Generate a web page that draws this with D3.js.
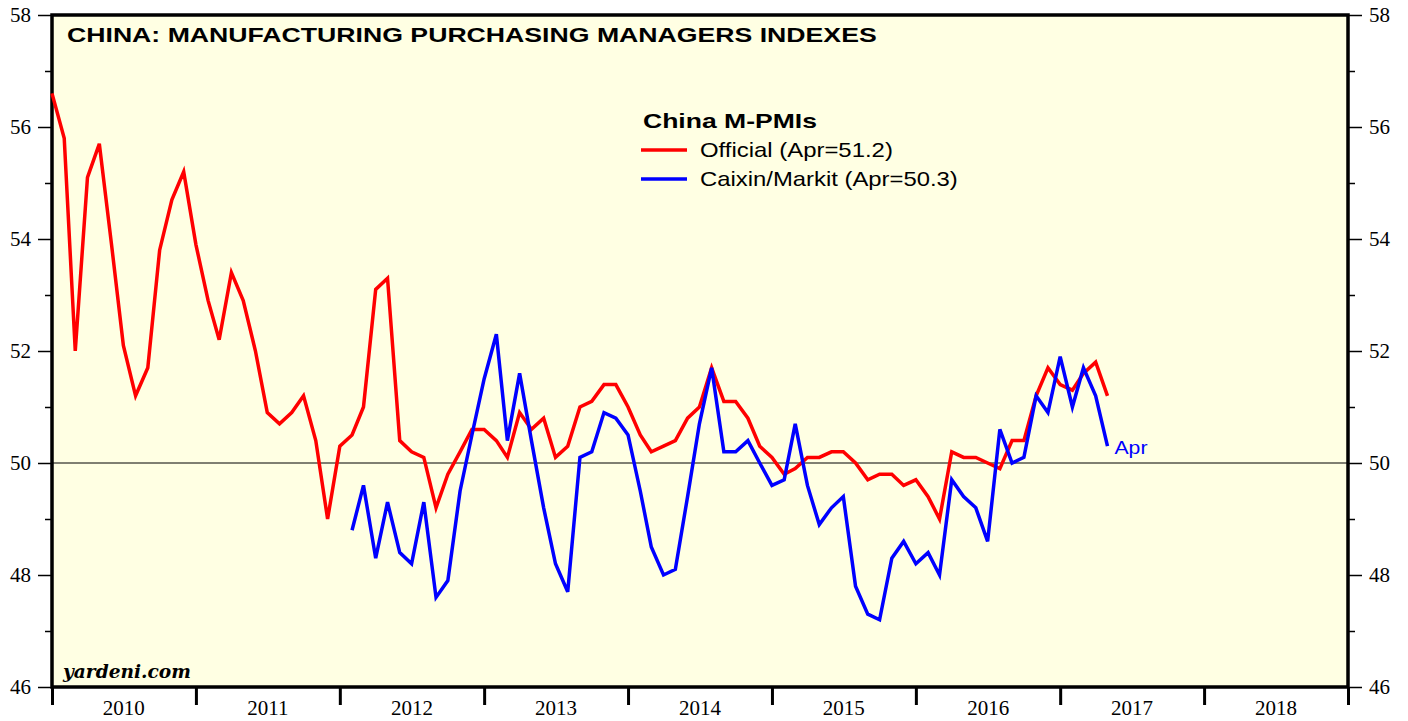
<!DOCTYPE html>
<html>
<head>
<meta charset="utf-8">
<script src="https://cdn.jsdelivr.net/npm/d3@7"></script>
<style>
  body { margin: 0; background: #fff; }
  svg { display: block; }
</style>
</head>
<body>
<div id="chart"></div>
<script>
// China official manufacturing PMI, monthly from Dec 2009 to Apr 2017
const officialStart = [2009, 12];
const officialValues = [
  56.6,
  55.8, 52.0, 55.1, 55.7, 53.9, 52.1, 51.2, 51.7, 53.8, 54.7, 55.2, 53.9,
  52.9, 52.2, 53.4, 52.9, 52.0, 50.9, 50.7, 50.9, 51.2, 50.4, 49.0, 50.3,
  50.5, 51.0, 53.1, 53.3, 50.4, 50.2, 50.1, 49.2, 49.8, 50.2, 50.6, 50.6,
  50.4, 50.1, 50.9, 50.6, 50.8, 50.1, 50.3, 51.0, 51.1, 51.4, 51.4, 51.0,
  50.5, 50.2, 50.3, 50.4, 50.8, 51.0, 51.7, 51.1, 51.1, 50.8, 50.3, 50.1,
  49.8, 49.9, 50.1, 50.1, 50.2, 50.2, 50.0, 49.7, 49.8, 49.8, 49.6, 49.7,
  49.4, 49.0, 50.2, 50.1, 50.1, 50.0, 49.9, 50.4, 50.4, 51.2, 51.7, 51.4,
  51.3, 51.6, 51.8, 51.2
];

// Caixin/Markit manufacturing PMI, monthly from Jan 2012 to Apr 2017
const caixinStart = [2012, 1];
const caixinValues = [
  48.8, 49.6, 48.3, 49.3, 48.4, 48.2, 49.3, 47.6, 47.9, 49.5, 50.5, 51.5,
  52.3, 50.4, 51.6, 50.4, 49.2, 48.2, 47.7, 50.1, 50.2, 50.9, 50.8, 50.5,
  49.5, 48.5, 48.0, 48.1, 49.4, 50.7, 51.7, 50.2, 50.2, 50.4, 50.0, 49.6,
  49.7, 50.7, 49.6, 48.9, 49.2, 49.4, 47.8, 47.3, 47.2, 48.3, 48.6, 48.2,
  48.4, 48.0, 49.7, 49.4, 49.2, 48.6, 50.6, 50.0, 50.1, 51.2, 50.9, 51.9,
  51.0, 51.7, 51.2, 50.3
];

const yearLabels = [2010, 2011, 2012, 2013, 2014, 2015, 2016, 2017, 2018];
const yMajorTicks = [46, 48, 50, 52, 54, 56, 58];
const yMinorTicks = [47, 49, 51, 53, 55, 57];
const legendItems = ["Official (Apr=51.2)", "Caixin/Markit (Apr=50.3)"];

// month value is plotted at the end of its month
function toSeries(start, values) {
  return values.map(function(v, i) {
    return { date: new Date(start[0], start[1] - 1 + i + 1, 1), value: v };
  });
}
const official = toSeries(officialStart, officialValues);
const caixin = toSeries(caixinStart, caixinValues);

const W = 1408, H = 721;
const plot = { left: 52, right: 1348, top: 15, bottom: 687 };

const svg = d3.select("#chart").append("svg")
  .attr("width", W).attr("height", H);

// the original fonts run wider than Liberation Sans: stretch text horizontally
function fitWidth(sel, x0, y0, width) {
  const w = sel.node().getComputedTextLength();
  sel.attr("x", 0).attr("y", 0)
    .attr("transform", `translate(${x0},${y0}) scale(${width / w},1)`);
}

const x = d3.scaleTime()
  .domain([new Date(2010, 0, 1), new Date(2019, 0, 1)])
  .range([plot.left, plot.right]);
const y = d3.scaleLinear()
  .domain([46, 58])
  .range([plot.bottom, plot.top]);

// plot background
svg.append("rect")
  .attr("x", plot.left).attr("y", plot.top)
  .attr("width", plot.right - plot.left).attr("height", plot.bottom - plot.top)
  .attr("fill", "#ffffe3");

// reference line at 50
svg.append("line")
  .attr("x1", plot.left).attr("x2", plot.right)
  .attr("y1", y(50)).attr("y2", y(50))
  .attr("stroke", "#000").attr("stroke-width", 1);

// y axes, major and minor ticks on both sides
function styleAxis(g) {
  g.select(".domain").remove();
  g.selectAll(".tick line").attr("stroke", "#000").attr("stroke-width", 1.5);
  g.selectAll(".tick text")
    .attr("fill", "#000")
    .style("font-family", "'Liberation Serif', 'Times New Roman', serif")
    .style("font-size", "21px");
}
svg.append("g").attr("transform", `translate(${plot.left},0)`)
  .call(d3.axisLeft(y).tickValues(yMajorTicks).tickSize(14).tickPadding(7))
  .call(styleAxis);
svg.append("g").attr("transform", `translate(${plot.left},0)`)
  .call(d3.axisLeft(y).tickValues(yMinorTicks).tickSize(7).tickFormat(""))
  .call(styleAxis);
svg.append("g").attr("transform", `translate(${plot.right},0)`)
  .call(d3.axisRight(y).tickValues(yMajorTicks).tickSize(14).tickPadding(7))
  .call(styleAxis);
svg.append("g").attr("transform", `translate(${plot.right},0)`)
  .call(d3.axisRight(y).tickValues(yMinorTicks).tickSize(7).tickFormat(""))
  .call(styleAxis);

// x axis: ticks at year boundaries, labels mid year
const xTicks = svg.append("g").attr("transform", `translate(0,${plot.bottom})`)
  .call(d3.axisBottom(x).ticks(d3.timeYear.every(1)).tickSize(18).tickFormat(""));
xTicks.select(".domain").remove();
xTicks.selectAll(".tick line").attr("stroke", "#000").attr("stroke-width", 3);

const xLabels = svg.append("g").attr("transform", `translate(0,${plot.bottom})`)
  .call(d3.axisBottom(x)
    .tickValues(yearLabels.map(yr => new Date(yr, 6, 1)))
    .tickSize(0).tickPadding(13)
    .tickFormat(d3.timeFormat("%Y")));
xLabels.select(".domain").remove();
xLabels.selectAll(".tick text")
  .attr("fill", "#000")
  .style("font-family", "'Liberation Serif', 'Times New Roman', serif")
  .style("font-size", "21px");

// frame
svg.append("rect")
  .attr("x", plot.left).attr("y", plot.top)
  .attr("width", plot.right - plot.left).attr("height", plot.bottom - plot.top)
  .attr("fill", "none").attr("stroke", "#000").attr("stroke-width", 3.5);

// lines
const line = d3.line()
  .x(d => x(d.date))
  .y(d => y(d.value));

svg.append("path").datum(official)
  .attr("fill", "none").attr("stroke", "#ff0000")
  .attr("stroke-width", 3.5).attr("stroke-linejoin", "miter")
  .attr("d", line);
svg.append("path").datum(caixin)
  .attr("fill", "none").attr("stroke", "#0000ff")
  .attr("stroke-width", 3.5).attr("stroke-linejoin", "miter")
  .attr("d", line);

// end label
const lastC = caixin[caixin.length - 1];
svg.append("text")
  .attr("fill", "#0000ff")
  .style("font-family", "'Liberation Sans', Arial, sans-serif")
  .style("font-size", "19px")
  .text("Apr")
  .call(fitWidth, x(lastC.date) + 7, y(lastC.value) + 8, 33);

// title
svg.append("text")
  .style("font-family", "'Liberation Sans', Arial, sans-serif")
  .style("font-weight", "bold").style("font-size", "21px")
  .text("CHINA: MANUFACTURING PURCHASING MANAGERS INDEXES")
  .call(fitWidth, 67, 42, 810);

// legend
const legend = svg.append("g");
legend.append("text")
  .style("font-family", "'Liberation Sans', Arial, sans-serif")
  .style("font-weight", "bold").style("font-size", "21px")
  .text("China M-PMIs")
  .call(fitWidth, 643, 128, 174);
const legendColors = ["#ff0000", "#0000ff"];
const legendWidths = [193, 258];
legendItems.forEach(function(label, i) {
  const ly = 150 + i * 29;
  legend.append("line")
    .attr("x1", 641).attr("x2", 687).attr("y1", ly).attr("y2", ly)
    .attr("stroke", legendColors[i]).attr("stroke-width", 3.5);
  legend.append("text")
    .style("font-family", "'Liberation Sans', Arial, sans-serif")
    .style("font-size", "20px")
    .text(label)
    .call(fitWidth, 700, ly + 7, legendWidths[i]);
});

// watermark
svg.append("text")
  .style("font-family", "'DejaVu Serif', 'Liberation Serif', serif")
  .style("font-weight", "bold").style("font-style", "italic")
  .style("font-size", "19px")
  .text("yardeni.com")
  .call(fitWidth, 63, 678, 128);
</script>
</body>
</html>
